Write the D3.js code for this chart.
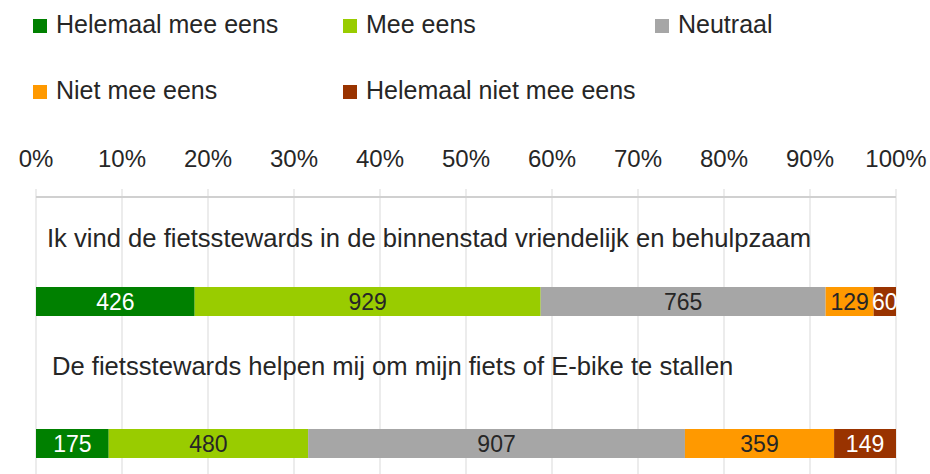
<!DOCTYPE html>
<html>
<head>
<meta charset="utf-8">
<script src="https://cdn.jsdelivr.net/npm/d3@7"></script>
<style>
  body { margin: 0; background: #fff; }
  text { font-family: "Liberation Sans", Arial, sans-serif; }
</style>
</head>
<body>
<div id="chart"></div>
<script>
// categories / series
var questions = [
  "Ik vind de fietsstewards in de binnenstad vriendelijk en behulpzaam",
  "De fietsstewards helpen mij om mijn fiets of E-bike te stallen"
];
var answers = ["Helemaal mee eens", "Mee eens", "Neutraal", "Niet mee eens", "Helemaal niet mee eens"];
var helemaalMeeEens = [426, 175];
var meeEens = [929, 480];
var neutraal = [765, 907];
var nietMeeEens = [129, 359];
var helemaalNietMeeEens = [60, 149];
var tickValues = [0, 0.1, 0.2, 0.3, 0.4, 0.5, 0.6, 0.7, 0.8, 0.9, 1];

var colors = ["#008000", "#99cc00", "#a6a6a6", "#ff9900", "#993300"];
var labelColors = ["#ffffff", "#262626", "#262626", "#262626", "#ffffff"];

function barGraph(){
    var width = 930, height = 474;
    var margin = {top: 197, left: 36, right: 34};

    var svg = d3.select("#chart")
        .append("svg")
        .attr("width", width)
        .attr("height", height);

    // build rows from the series arrays
    var series = [helemaalMeeEens, meeEens, neutraal, nietMeeEens, helemaalNietMeeEens];
    var rows = questions.map(function(q, i) {
        var row = {question: q};
        answers.forEach(function(a, j) { row[a] = series[j][i]; });
        return row;
    });
    var shares = rows.map(function(r) {
        var total = d3.sum(answers, function(a) { return r[a]; });
        var o = {question: r.question};
        answers.forEach(function(a) { o[a] = r[a] / total; });
        return o;
    });
    var stacked = d3.stack().keys(answers)(shares);

    var x = d3.scaleLinear().domain([0, 1]).range([margin.left, width - margin.right]);
    var y = d3.scaleBand().domain(questions).range([margin.top, margin.top + 284]);

    // gridlines
    svg.append("g")
        .selectAll("line")
        .data(tickValues)
        .enter().append("line")
        .attr("x1", function(d) { return x(d); })
        .attr("x2", function(d) { return x(d); })
        .attr("y1", margin.top - 8)
        .attr("y2", height)
        .attr("stroke", "#d9d9d9")
        .attr("stroke-width", 1);

    // axis line
    svg.append("line")
        .attr("x1", x(0)).attr("x2", x(1))
        .attr("y1", margin.top).attr("y2", margin.top)
        .attr("stroke", "#d0d0d0")
        .attr("stroke-width", 2);

    // tick labels
    svg.append("g")
        .selectAll("text")
        .data(tickValues)
        .enter().append("text")
        .attr("x", function(d) { return x(d); })
        .attr("y", 167)
        .attr("text-anchor", "middle")
        .attr("font-size", 24)
        .attr("fill", "#262626")
        .text(d3.format(".0%"));

    // question labels above the bars
    var labelDy = [50, 36];
    var labelDx = [11, 16];
    svg.append("g")
        .selectAll("text")
        .data(questions)
        .enter().append("text")
        .attr("x", function(d, i) { return x(0) + labelDx[i]; })
        .attr("y", function(d, i) { return y(d) + labelDy[i]; })
        .attr("font-size", 25.6)
        .attr("fill", "#262626")
        .text(function(d) { return d; });

    var barTop = 90, barH = 29;

    var layer = svg.append("g")
        .selectAll("g")
        .data(stacked)
        .enter().append("g")
        .attr("fill", function(d, i) { return colors[i]; });

    layer.selectAll("rect")
        .data(function(d) { return d; })
        .enter().append("rect")
        .attr("x", function(d) { return x(d[0]); })
        .attr("y", function(d) { return y(d.data.question) + barTop; })
        .attr("width", function(d) { return x(d[1]) - x(d[0]); })
        .attr("height", barH);

    layer.selectAll("text")
        .data(function(d, i) { return d.map(function(p, k) { return {p: p, s: i, q: k}; }); })
        .enter().append("text")
        .attr("x", function(d) { return (x(d.p[0]) + x(d.p[1])) / 2; })
        .attr("y", function(d) { return y(d.p.data.question) + barTop + barH / 2; })
        .attr("dy", "0.36em")
        .attr("text-anchor", "middle")
        .attr("font-size", 23)
        .attr("fill", function(d) { return labelColors[d.s]; })
        .text(function(d) { return series[d.s][d.q]; });

    // legend
    var legendPos = [[33, 33], [343, 33], [655, 33], [33, 99], [343, 99]];
    var legend = svg.append("g")
        .selectAll("g")
        .data(answers)
        .enter().append("g")
        .attr("transform", function(d, i) { return "translate(" + legendPos[i][0] + "," + legendPos[i][1] + ")"; });
    legend.append("rect")
        .attr("x", 0).attr("y", -14)
        .attr("width", 14).attr("height", 14)
        .attr("fill", function(d, i) { return colors[i]; });
    legend.append("text")
        .attr("x", 23)
        .attr("y", 0)
        .attr("font-size", 25)
        .attr("fill", "#262626")
        .text(function(d) { return d; });
}

barGraph();
</script>
</body>
</html>
